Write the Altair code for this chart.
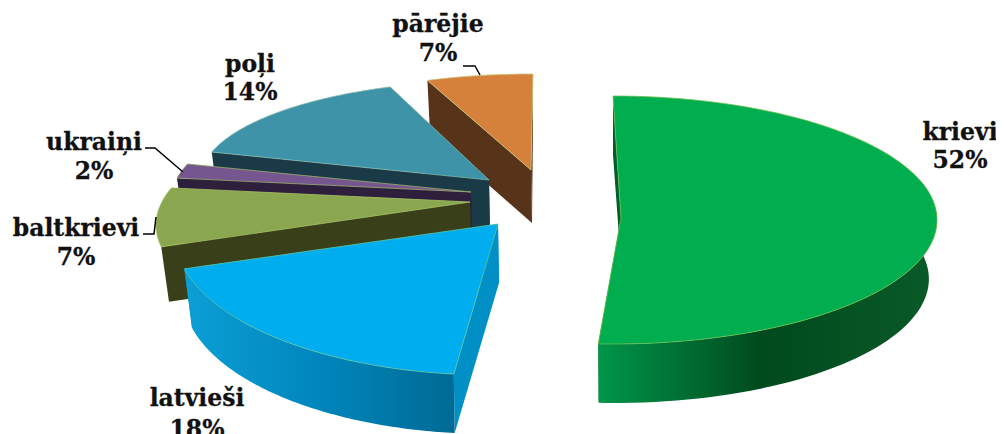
import math
import altair as alt
import pandas as pd

# chart values
categories = ["krievi", "latvieši", "baltkrievi", "ukraiņi", "poļi", "pārējie"]
shares = [52, 18, 7, 2, 14, 7]
labels = ["52%", "18%", "7%", "2%", "14%", "7%"]

# styles
top_colors = ["#00AE4F", "#00AEEF", "#8AA64E", "#76568F", "#3F93A9", "#D5803B"]
wall_colors = ["#00602B", "#0090C6", "#394019", "#2E1F3D", "#1A3A47", "#57331A"]
edge_colors = ["#6FBF50", "#5FC3A0", "#A9C46A", "#9DB070", "#7FB8A8", "#C9C878"]
wall_gradients = {
    0: [(0, "#00964A"), (0.48, "#004A1E"), (1, "#0A5A28")],
    1: [(0, "#0B9FD6"), (0.5, "#0086BC"), (1, "#006A94")],
}

# perspective geometry of each exploded slice: rim centre, radii, apex, thickness
rim_cx = [613, 490, 470, 470, 489, 531]
rim_cy = [220, 235, 225, 200, 180, 170]
rim_rx = [324, 315, 314, 299, 289, 289]
rim_ry = [124, 140, 120, 110, 99, 96]
apex_x = [621, 498, 470, 471, 489, 531]
apex_y = [218, 224, 202, 192, 180, 170]
depth = [59, 59, 55, 55, 55, 53]
start_adjust = [0, -0.6, 7.5, 4.3, 2, 4.2]
end_adjust = [-4.6, 4, 10.8, 4.7, 5.2, 0.4]
bottom_shrink = 0.975

# label placement
label_x = [960, 197, 76, 94, 250, 438]
label_y = [140, 406, 236, 150, 72, 32]
percent_y = [168, 437, 265, 179, 100, 61]
leaders = {
    "ukraiņi": ([145, 155, 183], [148, 148, 172]),
    "baltkrievi": ([143, 154, 156], [234, 234, 217]),
    "pārējie": ([463, 475, 480], [66, 66, 75]),
}

x_scale = alt.Scale(domain=[8, 996], range=[0, 988])
y_scale = alt.Scale(domain=[8, 434], range=[0, 426])


def polygon(points, fill, stroke=None, width=0.8):
    xs, ys = zip(*(list(points) + [points[0]]))
    df = pd.DataFrame({"x": xs, "y": ys, "i": range(len(xs))})
    kw = {"strokeWidth": width, "stroke": stroke} if stroke else {"strokeWidth": 0}
    return (
        alt.Chart(df)
        .mark_line(fill=fill, clip=False, **kw)
        .encode(
            x=alt.X("x:Q", scale=x_scale, axis=None),
            y=alt.Y("y:Q", scale=y_scale, axis=None),
            order=alt.Order("i:Q"),
        )
    )


layers = []
cum = 0
slices = []
for k, share in enumerate(shares):
    t0 = cum * 3.6 + start_adjust[k]
    t1 = (cum + share) * 3.6 + end_adjust[k]
    cum += share
    slices.append((k, t0, t1))

# painted from the back of the pie to the front
for k, t0, t1 in [slices[i] for i in (5, 4, 3, 2, 1, 0)]:
    n = 90
    ts = [math.radians(t0 + (t1 - t0) * j / n) for j in range(n + 1)]
    top_rim = [(rim_cx[k] + rim_rx[k] * math.sin(t), rim_cy[k] - rim_ry[k] * math.cos(t)) for t in ts]
    low_rim = [
        (rim_cx[k] + bottom_shrink * rim_rx[k] * math.sin(t), rim_cy[k] - rim_ry[k] * math.cos(t) + depth[k])
        for t in ts
    ]
    apex = (apex_x[k], apex_y[k])
    low_apex = (apex_x[k] + 1, apex_y[k] + depth[k])

    # the two cut faces
    for rim_pt, low_pt in ((top_rim[-1], low_rim[-1]), (top_rim[0], low_rim[0])):
        layers.append(polygon([rim_pt, apex, low_apex, low_pt], wall_colors[k]))
    # curved outer wall, only where it faces the viewer
    grad = wall_gradients.get(k)
    if grad:
        keep = [j for j, t in enumerate(ts) if math.cos(t) < 0.35]
        pts = [top_rim[j] for j in keep] + [low_rim[j] for j in reversed(keep)]
        fill = alt.Gradient(
            gradient="linear", x1=0, y1=0, x2=1, y2=0,
            stops=[alt.GradientStop(offset=o, color=c) for o, c in grad],
        )
        layers.append(polygon(pts, fill))
    # top face
    layers.append(polygon(top_rim + [apex], top_colors[k], edge_colors[k]))

for name, (lx, ly) in leaders.items():
    df = pd.DataFrame({"x": lx, "y": ly, "i": range(len(lx))})
    layers.append(
        alt.Chart(df)
        .mark_line(color="#000000", strokeWidth=1.5)
        .encode(
            x=alt.X("x:Q", scale=x_scale, axis=None),
            y=alt.Y("y:Q", scale=y_scale, axis=None),
            order=alt.Order("i:Q"),
        )
    )

text_df = pd.DataFrame(
    {
        "x": label_x + label_x,
        "y": label_y + percent_y,
        "t": categories + labels,
    }
)
layers.append(
    alt.Chart(text_df)
    .mark_text(
        font="DejaVu Serif",
        fontWeight="bold",
        fontSize=23.5,
        color="#111111",
        stroke="#111111",
        strokeWidth=0.3,
        align="center",
        baseline="alphabetic",
    )
    .encode(
        x=alt.X("x:Q", scale=x_scale, axis=None),
        y=alt.Y("y:Q", scale=y_scale, axis=None),
        text="t:N",
    )
)

chart = (
    alt.layer(*layers)
    .properties(width=988, height=426, padding=0, autosize=alt.AutoSizeParams(type="none"))
    .configure_view(stroke=None)
)
chart.save("out.html", embed_options={"renderer": "svg", "actions": False})
